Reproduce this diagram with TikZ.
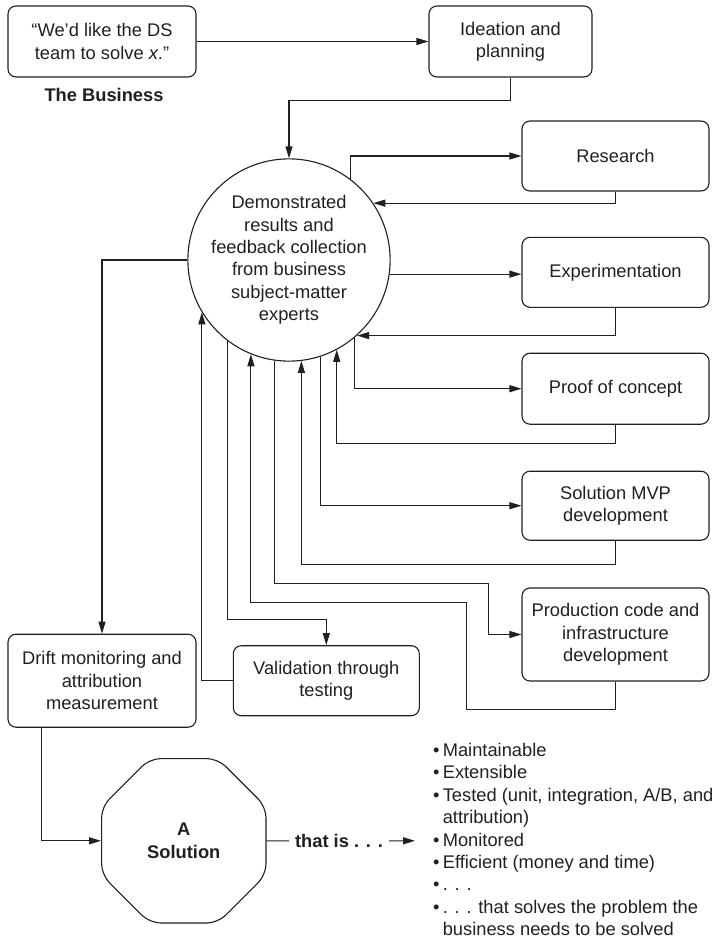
\documentclass[tikz,border=0pt]{standalone}
\usepackage{fontspec}
\setmainfont{Liberation Sans}
\usetikzlibrary{arrows.meta,shapes.geometric,calc}

\definecolor{inkc}{HTML}{231F20}
\newcommand\bodysize{\fontsize{18.3}{22.4}\selectfont}
\newcommand\blt{\textbullet\kern3.4pt}

\tikzset{
  ink/.style={draw=inkc, line width=1.1pt},
  box/.style={ink, rounded corners=8pt, align=center, inner sep=0pt},
  hubnode/.style={ink, circle, align=center, inner sep=0pt, minimum size=186.6pt},
  octnode/.style={ink, regular polygon, regular polygon sides=8, rounded corners=11pt,
                  minimum size=178pt, inner sep=0pt, align=center, font=\bodysize\bfseries},
  flow/.style={ink, -{Triangle[length=12pt,width=7pt]}},
  every node/.style={text=inkc, font=\bodysize},
}

\begin{document}
\begin{tikzpicture}[x=1pt, y=-1pt]
  \useasboundingbox (0,0) rectangle (716,942);

  % request and planning
  \node[box, minimum width=188pt, minimum height=71pt] (biz) at (102,41.5)
    {“We’d like the DS\\team to solve \textit{x}.”};
  \node[font=\bodysize\bfseries] (bizlabel) at (104,95) {The Business};
  \node[box, minimum width=163pt, minimum height=71pt] (idea) at (510.5,41.5)
    {Ideation and\\planning};

  % feedback hub
  \node[hubnode] (hub) at (289,260)
    {Demonstrated\\results and\\feedback collection\\from business\\subject-matter\\experts};

  % work stages on the right
  \node[box, minimum width=187pt, minimum height=70pt] (research) at (615.5,156) {Research};
  \node[box, minimum width=187pt, minimum height=70pt] (exper) at (615.5,272.3) {Experimentation};
  \node[box, minimum width=187pt, minimum height=71pt] (poc) at (615.5,388.7) {Proof of concept};
  \node[box, minimum width=187pt, minimum height=69pt] (mvp) at (615.5,505.7)
    {Solution MVP\\development};
  \node[box, minimum width=187pt, minimum height=93pt] (prod) at (615.5,634.5)
    {Production code and\\infrastructure\\development};

  % lower stages
  \node[box, minimum width=186pt, minimum height=70pt] (valid) at (326.3,680.7)
    {Validation through\\testing};
  \node[box, minimum width=188pt, minimum height=93pt] (drift) at (102,680.7)
    {Drift monitoring and\\attribution\\measurement};

  % the outcome
  \node[octnode] (sol) at (183.8,840.8) {A\\Solution};
  \node[anchor=north west, align=left, inner sep=0pt] (list) at (432.8,743)
    {\blt Maintainable\\
     \blt Extensible\\
     \blt Tested (unit, integration, A/B, and\\
     \phantom{\blt}attribution)\\
     \blt Monitored\\
     \blt Efficient (money and time)\\
     \blt . . .\\
     \blt . . . that solves the problem the\\
     \phantom{\blt}business needs to be solved};

  % bend points
  \coordinate (k1) at (488.3,583.3);
  \coordinate (k2) at (466.7,602.7);
  \coordinate (k3) at (326.3,619.7);
  \coordinate (listin) at (415,840.8);

  % connectors
  \draw[flow] (biz.east) -- (idea.west);
  \draw[flow] (idea.south) -- ++(0,23) -| (hub.north);

  \draw[flow] (hub.53) |- (research.west);
  \draw[flow] (research.south) |- (hub.34);

  \draw[flow] (hub.-8) -- (hub.-8 -| exper.west);
  \draw[flow] (exper.south) |- (hub.-48);

  \draw[flow] (hub.-50) |- (poc.west);
  \draw[flow] (poc.south) -- ++(0,18.7) -| (hub.-62);

  \draw[flow] (hub.-72) |- (mvp.west);
  \draw[flow] (mvp.south) -- ++(0,23.7) -| (hub.-83);

  \draw[flow] (hub.-98) |- (k1) |- (prod.west);
  \draw[flow] (prod.south) -- ++(0,28.3) -| (k2) -| (hub.-112);

  \draw[flow] (hub.-127) |- (k3) -- (valid.north);
  \draw[flow] (valid.west) -| (hub.-149);

  \draw[flow] (hub.west) -| (drift.north);
  \draw[flow] ($(drift.south west)+(34.3,0)$) |- (sol.west);

  \draw[flow] (sol.east) -- node[pos=0.488, fill=white, inner xsep=6pt, font=\bodysize\bfseries]
    {that is . . .} (listin);
\end{tikzpicture}
\end{document}
